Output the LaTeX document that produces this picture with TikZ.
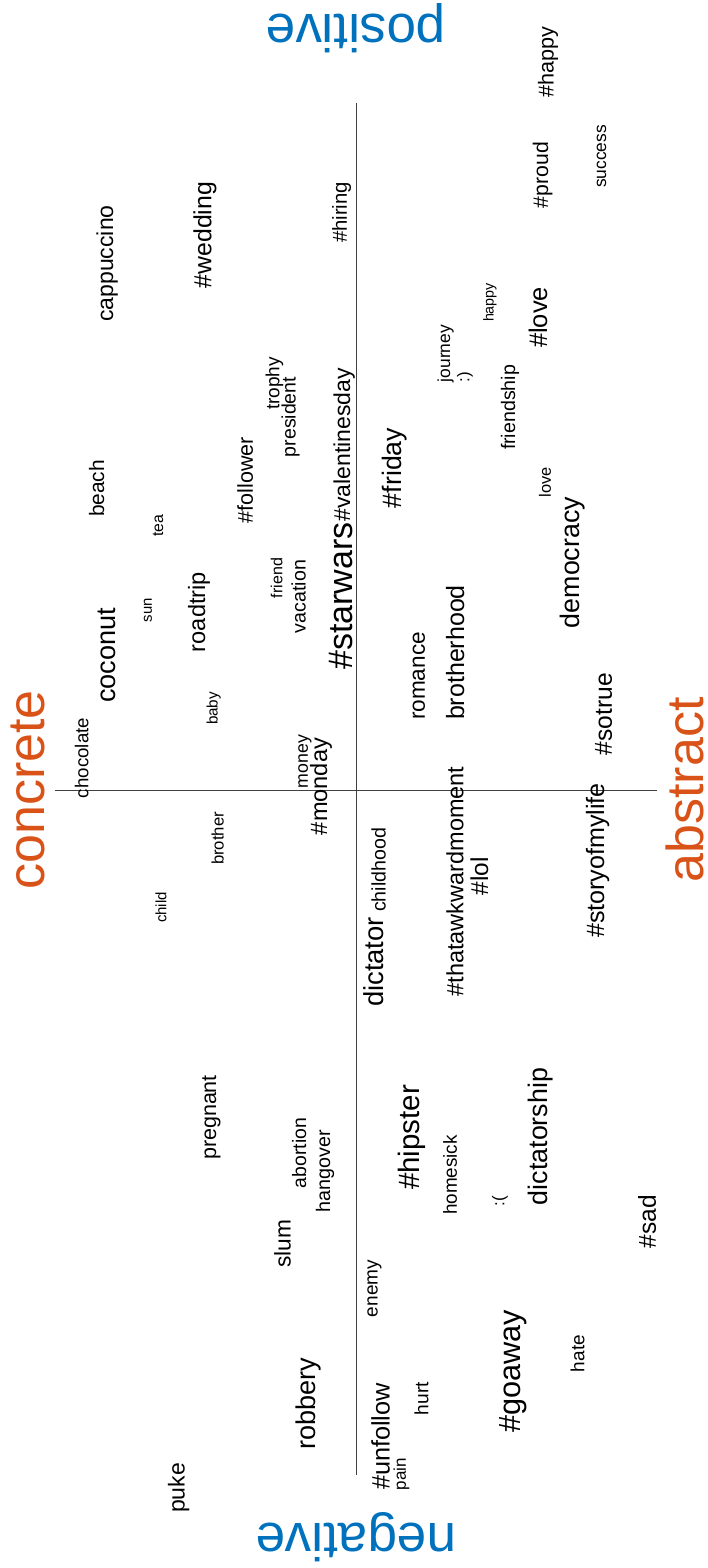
\documentclass[tikz,border=0pt]{standalone}
\usepackage{fontspec}
\setmainfont{Liberation Sans}
\definecolor{polarity}{HTML}{0072BD}
\definecolor{concreteness}{HTML}{D95319}
\definecolor{axisgray}{HTML}{404040}
\begin{document}
\begin{tikzpicture}[x=1pt,y=-1pt,
  word/.style={rotate=90,anchor=base,inner sep=0pt,font=\fontsize{#1}{#1}\selectfont},
  flipped/.style={rotate=180,anchor=base,inner sep=0pt,text=polarity,font=\fontsize{53}{53}\selectfont},
  sidelabel/.style={rotate=90,anchor=base,inner sep=0pt,text=concreteness,font=\fontsize{52}{52}\selectfont},
  plotaxis/.style={draw=axisgray,line width=1pt}]
\fill[white] (0,0) rectangle (708,1568);
\useasboundingbox (0,0) rectangle (708,1568);

% axes
\coordinate (posend) at (356,103);
\coordinate (negend) at (356,1475);
\coordinate (concend) at (55,790);
\coordinate (absend) at (657,790);
\draw[plotaxis] (posend) -- (negend);
\draw[plotaxis] (concend) -- (absend);

% axis labels
\node[flipped] (positive) at (356,15) {positive};
\node[flipped] (negative) at (356,1523) {negative};
\node[sidelabel] (concrete) at (44.5,790) {concrete};
\node[sidelabel] (abstract) at (703,790) {abstract};

% words
\node[word=23]   (cappuccino) at (113.2,263.5) {cappuccino};
\node[word=24.8] (wedding) at (211.4,235) {\#wedding};
\node[word=20.3] (hiring) at (346.8,212.5) {\#hiring};
\node[word=21.6] (hhappy) at (553.6,62.5) {\#happy};
\node[word=17.4] (success) at (606,156.5) {success};
\node[word=21.2] (proud) at (548,175) {\#proud};
\node[word=25.5] (hlove) at (547.1,317.5) {\#love};
\node[word=14.3] (happy) at (493.7,302.5) {happy};
\node[word=17.4] (journey) at (450,353.5) {journey};
\node[word=17]   (smile) at (469.4,377) {:)};
\node[word=19.6] (friendship) at (515.1,407.5) {friendship};
\node[word=16.4] (love) at (550.9,482) {love};
\node[word=26.8] (democracy) at (579.5,562.5) {democracy};
\node[word=26.7] (friday) at (401,468) {\#friday};
\node[word=22.6] (romance) at (424.9,676) {romance};
\node[word=25]   (brotherhood) at (464,652.5) {brotherhood};
\node[word=24.6] (sotrue) at (611.9,714) {\#sotrue};
\node[word=23]   (valentinesday) at (350.2,445) {\#valentinesday};
\node[word=34]   (starwars) at (352,596) {\#starwars};
\node[word=21.5] (follower) at (252.8,480) {\#follower};
\node[word=19]   (trophy) at (279.4,383.5) {trophy};
\node[word=19.5] (president) at (295.6,417) {president};
\node[word=20.9] (beach) at (104,488.5) {beach};
\node[word=15.8] (tea) at (163.2,526) {tea};
\node[word=14.9] (sun) at (151.9,610) {sun};
\node[word=27.1] (coconut) at (115.7,655.5) {coconut};
\node[word=23.6] (roadtrip) at (205.1,612) {roadtrip};
\node[word=16]   (friend) at (282.3,578) {friend};
\node[word=19.6] (vacation) at (305.6,596.5) {vacation};
\node[word=15.2] (baby) at (217.5,708.5) {baby};
\node[word=18.7] (chocolate) at (88.3,758) {chocolate};
\node[word=17.7] (money) at (307.8,761.5) {money};
\node[word=23.6] (monday) at (327.1,786.5) {\#monday};
\node[word=16.7] (brother) at (223.5,838.5) {brother};
\node[word=15]   (child) at (166.4,907.5) {child};
\node[word=21.5] (pregnant) at (216.1,1117.5) {pregnant};
\node[word=19.4] (abortion) at (306,1153) {abortion};
\node[word=19.7] (hangover) at (330.1,1171) {hangover};
\node[word=22.7] (slum) at (290.7,1244) {slum};
\node[word=29.5] (hipster) at (419.2,1137.5) {\#hipster};
\node[word=18.9] (homesick) at (456.8,1175) {homesick};
\node[word=17]   (frown) at (504.4,1201) {:(};
\node[word=26.8] (dictatorship) at (547,1136.5) {dictatorship};
\node[word=27.4] (dictator) at (383.8,962) {dictator};
\node[word=19.6] (childhood) at (385.6,870) {childhood};
\node[word=23.5] (awkward) at (463.4,881.5) {\#thatawkwardmoment};
\node[word=24.4] (lol) at (488.2,876) {\#lol};
\node[word=25.1] (storyofmylife) at (604,860.5) {\#storyofmylife};
\node[word=24.5] (sad) at (655.9,1221.5) {\#sad};
\node[word=19]   (enemy) at (377.5,1288.5) {enemy};
\node[word=30.7] (goaway) at (520,1371.5) {\#goaway};
\node[word=19]   (hate) at (584.3,1353.5) {hate};
\node[word=19.2] (hurt) at (428.4,1398.5) {hurt};
\node[word=25.3] (unfollow) at (389.6,1436.5) {\#unfollow};
\node[word=17]   (pain) at (405.9,1474) {pain};
\node[word=27.1] (robbery) at (315,1404) {robbery};
\node[word=23]   (puke) at (184.5,1488) {puke};
\end{tikzpicture}
\end{document}
